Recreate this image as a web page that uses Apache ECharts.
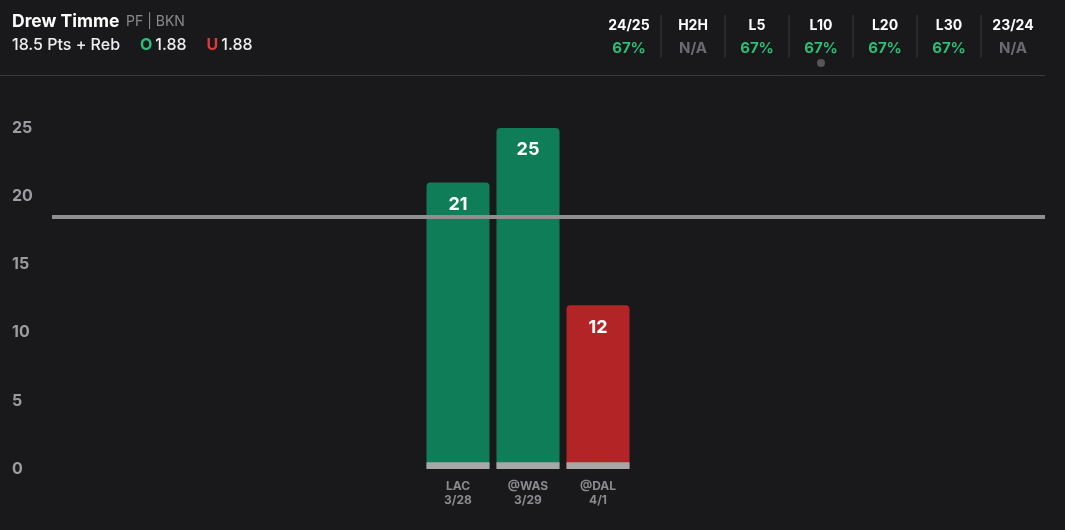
<!DOCTYPE html>
<html>
<head>
<meta charset="utf-8">
<script src="https://cdn.jsdelivr.net/npm/echarts@6/dist/echarts.min.js"></script>
<style>
  html, body { margin: 0; padding: 0; background: #19191b; }
  #chart { width: 1065px; height: 530px; }
</style>
</head>
<body>
<div id="chart"></div>
<script>
// game log
var games = ['LAC\n3/28', '@WAS\n3/29', '@DAL\n4/1'];
var values = [21, 25, 12];
var line = 18.5;

// header
var playerName = 'Drew Timme';
var playerInfo = 'PF | BKN';
var propText = '18.5 Pts + Reb';
var overOdds = '1.88';
var underOdds = '1.88';

// hit rate columns
var statLabels = ['24/25', 'H2H', 'L5', 'L10', 'L20', 'L30', '23/24'];
var statValues = ['67%', 'N/A', '67%', '67%', '67%', '67%', 'N/A'];
var selectedStat = 'L10';

var yTicks = [0, 5, 10, 15, 20, 25];

var GREEN = '#0e7d58', RED = '#b32426', STRIP = '#a7a7a7';
var font = 'Inter, "Noto Sans", sans-serif';

var myChart = echarts.init(document.getElementById('chart'));

var graphics = [];
graphics.push({
  type: 'text', left: 12, top: 13,
  style: {
    text: '{n|' + playerName + '}  {i|' + playerInfo + '}',
    rich: {
      n: { fontSize: 17.5, fontWeight: 'bold', fill: '#ffffff', fontFamily: font },
      i: { fontSize: 14, fill: '#8a8a8e', fontFamily: font }
    }
  }
});
graphics.push({
  type: 'text', left: 12, top: 37,
  style: {
    text: '{p|' + propText + '}      {o|O}{v|' + overOdds + '}      {u|U}{v|' + underOdds + '}',
    rich: {
      p: { fontSize: 16, fontWeight: 500, fill: '#eeeeee', fontFamily: font },
      o: { fontSize: 16, fontWeight: 'bold', fill: '#2ebd74', fontFamily: font, padding: [0, 3, 0, 0] },
      u: { fontSize: 16, fontWeight: 'bold', fill: '#e0393b', fontFamily: font, padding: [0, 3, 0, 0] },
      v: { fontSize: 16, fontWeight: 500, fill: '#eeeeee', fontFamily: font }
    }
  }
});
statLabels.forEach(function (lab, i) {
  var cx = 629 + 64 * i;
  graphics.push({
    type: 'text', x: cx, y: 26,
    style: { text: lab, fill: '#ffffff', fontSize: 14, fontWeight: 'bold', fontFamily: font, align: 'center', verticalAlign: 'middle' }
  });
  var v = statValues[i];
  graphics.push({
    type: 'text', x: cx, y: 48,
    style: { text: v, fill: v === 'N/A' ? '#6b6b72' : '#2ebd74', fontSize: 15, fontWeight: 'bold', fontFamily: font, align: 'center', verticalAlign: 'middle' }
  });
  if (i < statLabels.length - 1) {
    graphics.push({
      type: 'line', shape: { x1: cx + 32, y1: 15, x2: cx + 32, y2: 58 },
      style: { stroke: '#3a3a3d', lineWidth: 1 }
    });
  }
  if (lab === selectedStat) {
    graphics.push({ type: 'circle', shape: { cx: cx, cy: 63, r: 4 }, style: { fill: '#55555a' } });
  }
});
graphics.push({
  type: 'line', shape: { x1: 0, y1: 75.5, x2: 1045, y2: 75.5 },
  style: { stroke: '#3a3a3d', lineWidth: 1 }
});

var option = {
  backgroundColor: '#19191b',
  animation: false,
  graphic: graphics,
  grid: [
    { left: 52, right: 20, top: 128, bottom: 61 },
    { left: 423, width: 210, top: 128, bottom: 61 }
  ],
  xAxis: [
    { gridIndex: 0, type: 'value', min: 0, max: 1, show: false },
    {
      gridIndex: 1, type: 'category', data: games,
      axisLine: { show: false }, axisTick: { show: false },
      axisLabel: { color: '#8b8b8f', fontSize: 12, fontWeight: 'bold', fontFamily: font, lineHeight: 14, margin: 10 }
    }
  ],
  yAxis: [
    {
      gridIndex: 0, type: 'value', min: 0, max: 25, interval: 5,
      splitLine: { show: false }, axisLine: { show: false }, axisTick: { show: false },
      axisLabel: { color: '#9c9ca0', fontSize: 16, fontWeight: 'bold', fontFamily: font, align: 'left', margin: 40 }
    },
    { gridIndex: 1, type: 'value', min: 0, max: 25, interval: 5, show: false }
  ],
  series: [
    {
      type: 'line', xAxisIndex: 0, yAxisIndex: 0, data: [], z: 1,
      markLine: {
        silent: true, symbol: 'none', label: { show: false },
        lineStyle: { color: '#8f8f8f', width: 4, type: 'solid' },
        data: [{ yAxis: line }]
      }
    },
    {
      type: 'bar', xAxisIndex: 1, yAxisIndex: 1, z: 3,
      barWidth: 63,
      data: values.map(function (v) {
        return { value: v, itemStyle: { color: v > line ? GREEN : RED, borderRadius: [4, 4, 0, 0] } };
      }),
      label: {
        show: true, position: 'insideTop', distance: 13,
        color: '#ffffff', fontSize: 18, fontWeight: 'bold', fontFamily: font
      }
    },
    {
      type: 'bar', xAxisIndex: 1, yAxisIndex: 1, z: 4,
      barWidth: 63, barGap: '-100%', silent: true,
      itemStyle: { color: STRIP },
      data: values.map(function () { return 0.5; })
    }
  ]
};

option && myChart.setOption(option);
</script>
</body>
</html>
